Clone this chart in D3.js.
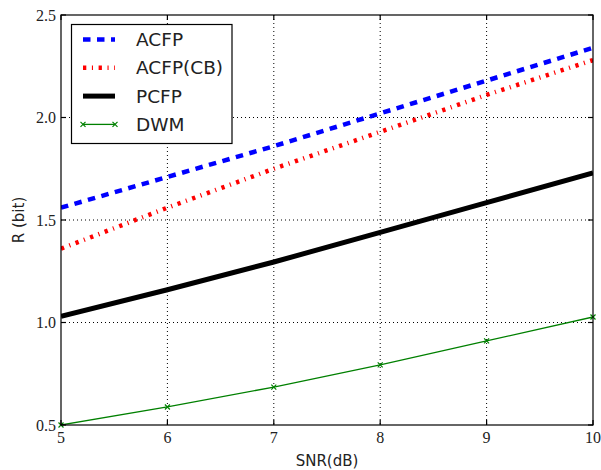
<!DOCTYPE html>
<html>
<head>
<meta charset="utf-8">
<script src="https://cdn.jsdelivr.net/npm/d3@7"></script>
<style>
  body { margin: 0; background: #fff; }
</style>
</head>
<body>
<div id="chart"></div>
<script>
// data
let snr = [5, 6, 7, 8, 9, 10];
let acfp = [1.56, 1.71, 1.86, 2.02, 2.18, 2.34];
let acfpCB = [1.36, 1.56, 1.75, 1.93, 2.11, 2.28];
let pcfp = [1.03, 1.16, 1.295, 1.44, 1.585, 1.73];
let dwm = [0.5, 0.588, 0.685, 0.793, 0.91, 1.027];
let xTicks = [5, 6, 7, 8, 9, 10];
let yTicks = [0.5, 1.0, 1.5, 2.0, 2.5];
let seriesNames = ["ACFP", "ACFP(CB)", "PCFP", "DWM"];

let width = 601, height = 470;
let margin = { left: 61, right: 8, top: 15, bottom: 45 };

let x = d3.scaleLinear().domain([5, 10]).range([margin.left, width - margin.right]);
let y = d3.scaleLinear().domain([0.5, 2.5]).range([height - margin.bottom, margin.top]);

let series = [
    { name: seriesNames[0], values: acfp, color: "#0000ff", width: 4.5, dash: "7.5,6.5", marker: false },
    { name: seriesNames[1], values: acfpCB, color: "#ff0000", width: 4.5, dash: "3.3,5.6,1.1,5.6", marker: false },
    { name: seriesNames[2], values: pcfp, color: "#000000", width: 5, dash: null, marker: false },
    { name: seriesNames[3], values: dwm, color: "#008000", width: 1.3, dash: null, marker: true }
];

let svg = d3.select("#chart").append("svg")
    .attr("width", width)
    .attr("height", height);

// grid
svg.append("g")
    .selectAll("line")
    .data(xTicks.slice(1, -1))
    .enter()
    .append("line")
    .attr("x1", d => x(d)).attr("x2", d => x(d))
    .attr("y1", y(2.5)).attr("y2", y(0.5))
    .style("stroke", "black")
    .style("stroke-width", 1)
    .style("stroke-dasharray", "1,3");
svg.append("g")
    .selectAll("line")
    .data(yTicks.slice(1, -1))
    .enter()
    .append("line")
    .attr("y1", d => y(d)).attr("y2", d => y(d))
    .attr("x1", x(5)).attr("x2", x(10))
    .style("stroke", "black")
    .style("stroke-width", 1)
    .style("stroke-dasharray", "1,3");

// clip to plot area
svg.append("clipPath").attr("id", "clip")
    .append("rect")
    .attr("x", x(5)).attr("y", y(2.5))
    .attr("width", x(10) - x(5)).attr("height", y(0.5) - y(2.5));

let line = d3.line()
    .x((d, i) => x(snr[i]))
    .y(d => y(d));

let plot = svg.append("g").attr("clip-path", "url(#clip)");
series.forEach(s => {
    plot.append("path")
        .datum(s.values)
        .attr("d", line)
        .style("fill", "none")
        .style("stroke", s.color)
        .style("stroke-width", s.width)
        .style("stroke-dasharray", s.dash);
});

function cross(g, cx, cy, color) {
    let r = 2.5;
    g.append("path")
        .attr("d", `M${cx - r},${cy - r}L${cx + r},${cy + r}M${cx - r},${cy + r}L${cx + r},${cy - r}`)
        .style("stroke", color)
        .style("stroke-width", 1.2)
        .style("fill", "none");
}
dwm.forEach((d, i) => cross(svg, x(snr[i]), y(d), "#008000"));

// frame
svg.append("rect")
    .attr("x", x(5)).attr("y", y(2.5))
    .attr("width", x(10) - x(5)).attr("height", y(0.5) - y(2.5))
    .style("fill", "none")
    .style("stroke", "black")
    .style("stroke-width", 1.2);

// inward ticks on all four sides
let tl = 5;
let ticks = svg.append("g").style("stroke", "black").style("stroke-width", 1.2);
xTicks.forEach(t => {
    ticks.append("line").attr("x1", x(t)).attr("x2", x(t)).attr("y1", y(0.5)).attr("y2", y(0.5) - tl);
    ticks.append("line").attr("x1", x(t)).attr("x2", x(t)).attr("y1", y(2.5)).attr("y2", y(2.5) + tl);
});
yTicks.forEach(t => {
    ticks.append("line").attr("y1", y(t)).attr("y2", y(t)).attr("x1", x(5)).attr("x2", x(5) + tl);
    ticks.append("line").attr("y1", y(t)).attr("y2", y(t)).attr("x1", x(10)).attr("x2", x(10) - tl);
});

// tick labels
svg.append("g")
    .selectAll("text")
    .data(xTicks)
    .enter()
    .append("text")
    .attr("x", d => x(d))
    .attr("y", y(0.5) + 18)
    .text(d => d)
    .attr("font-family", "'Liberation Serif', serif")
    .attr("font-size", "16px")
    .attr("fill", "#222")
    .attr("text-anchor", "middle");
svg.append("g")
    .selectAll("text")
    .data(yTicks)
    .enter()
    .append("text")
    .attr("x", x(5) - 5)
    .attr("y", d => y(d))
    .text(d => d.toFixed(1))
    .attr("font-family", "'Liberation Serif', serif")
    .attr("font-size", "16px")
    .attr("fill", "#222")
    .attr("text-anchor", "end")
    .attr("dominant-baseline", "central");

// axis labels
svg.append("text")
    .attr("x", (x(5) + x(10)) / 2)
    .attr("y", 466)
    .text("SNR(dB)")
    .attr("font-family", "'DejaVu Sans', sans-serif")
    .attr("font-size", "15px")
    .attr("fill", "#222")
    .attr("text-anchor", "middle");
svg.append("text")
    .attr("transform", `translate(24,${(y(0.5) + y(2.5)) / 2}) rotate(-90)`)
    .text("R (bit)")
    .attr("font-family", "'DejaVu Sans', sans-serif")
    .attr("font-size", "15px")
    .attr("fill", "#222")
    .attr("text-anchor", "middle");

// legend
let legend = svg.append("g");
legend.append("rect")
    .attr("x", 71.5).attr("y", 24.5)
    .attr("width", 160.5).attr("height", 119)
    .style("fill", "white")
    .style("stroke", "black")
    .style("stroke-width", 1.2);
series.forEach((s, i) => {
    let ly = 39.5 + i * 28.3;
    legend.append("line")
        .attr("x1", 83).attr("x2", 115)
        .attr("y1", ly).attr("y2", ly)
        .style("stroke", s.color)
        .style("stroke-width", s.width)
        .style("stroke-dasharray", s.dash);
    if (s.marker) {
        cross(legend, 83, ly, s.color);
        cross(legend, 115, ly, s.color);
    }
    legend.append("text")
        .attr("x", 136)
        .attr("y", ly)
        .text(s.name)
        .attr("font-family", "'DejaVu Sans', sans-serif")
        .attr("font-size", "18.5px")
        .attr("fill", "#222")
        .attr("dominant-baseline", "central");
});
</script>
</body>
</html>
